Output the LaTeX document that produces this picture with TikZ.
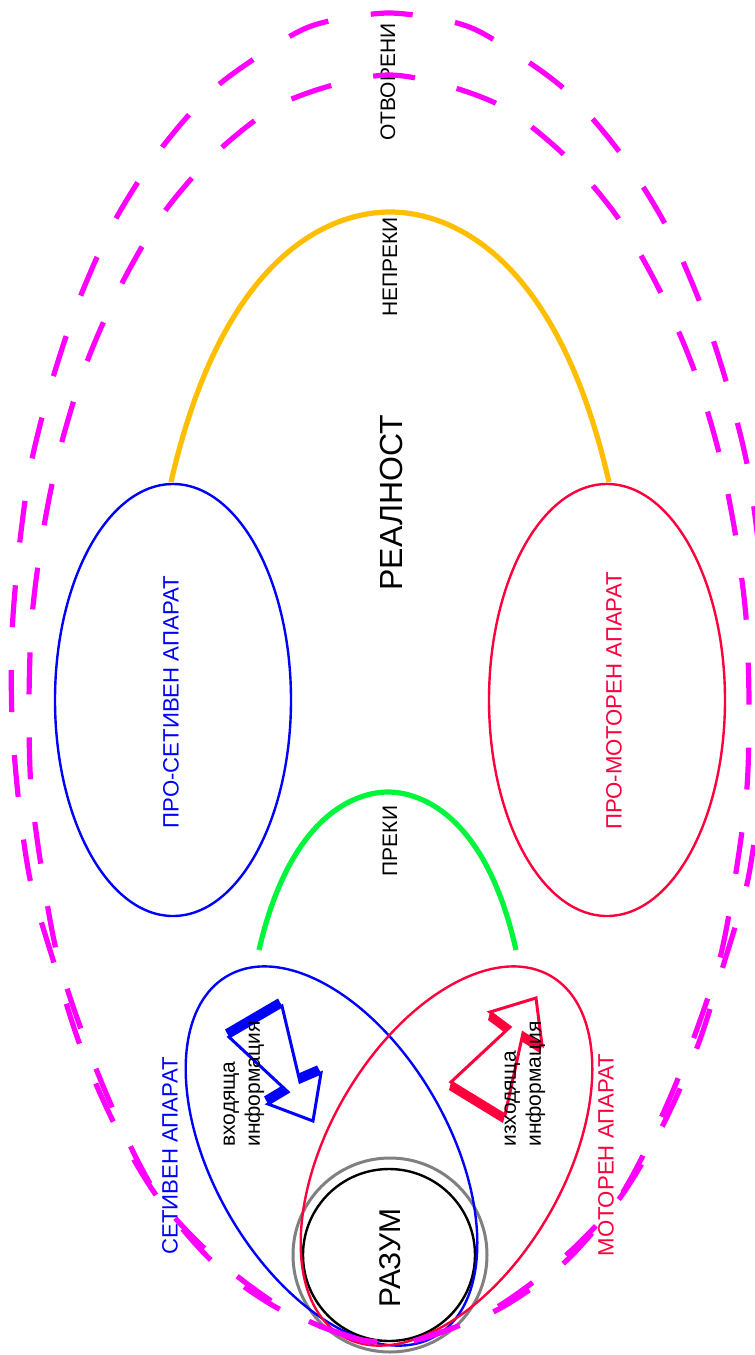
\documentclass[tikz,border=0pt]{standalone}
\usepackage{fontspec}
\setmainfont{Liberation Sans}
\definecolor{sensblue}{RGB}{0,0,255}
\definecolor{motred}{RGB}{255,0,60}
\definecolor{openmag}{RGB}{255,0,255}
\definecolor{baryel}{RGB}{255,190,0}
\definecolor{bargreen}{RGB}{0,245,60}
\begin{document}
\begin{tikzpicture}[x=0.5pt,y=-0.5pt,
  every node/.style={font=\fontsize{10.5}{12.5}\selectfont,rotate=90,inner sep=0pt},
  big/.style={font=\fontsize{16}{19}\selectfont},
  aplabel/.style={font=\fontsize{11.1}{13}\selectfont},
  apparat/.style={line width=1.2pt},
  barrier/.style={line width=2.6pt},
  bolt/.style={line width=1.5pt,fill=white,line join=miter},
  open/.style={draw=openmag,line width=2.6pt,dash pattern=on 21pt off 21.5pt,dash phase=41.5pt}]
\useasboundingbox (0,0) rectangle (755,1355);
% pro-apparatus and barriers
\draw[apparat,sensblue] (173,700) ellipse [x radius=59pt,y radius=108pt];
\draw[apparat,motred] (607,700) ellipse [x radius=59pt,y radius=108pt];
\draw[barrier,baryel] (171,482) .. controls (226,242) and (340,212) .. (390,212) .. controls (440,212) and (554,242) .. (609,482);
\draw[barrier,bargreen] (259,950) .. controls (291,811) and (359,792) .. (388,792) .. controls (417,792) and (485,811) .. (516,950);
% mind
\draw[gray,line width=1.5pt] (390,1255) circle[radius=48.5pt];
\draw[line width=1.2pt] (389,1255) circle[radius=43pt];
\draw[apparat,sensblue,rotate around={-60:(331.5,1156)}] (331.5,1156) ellipse [x radius=104pt,y radius=59pt];
\draw[apparat,motred,rotate around={60:(446.5,1156)}] (446.5,1156) ellipse [x radius=104pt,y radius=59pt];
% incoming / outgoing bolts
\fill[sensblue] (229,1037)--(282,1006)--(278,998.5)--(225,1029.5)--cycle;
\fill[sensblue] (300,1082)--(321,1073)--(317,1065.5)--(296,1074.5)--cycle;
\fill[sensblue] (268,1104)--(288,1092)--(284,1084.5)--(264,1096.5)--cycle;
\draw[bolt,draw=sensblue] (229,1037)--(282,1006)--(300,1082)--(321,1073)--(313,1121)--(268,1104)--(288,1092)--cycle;
\fill[motred] (451,1082)--(505,1115)--(503,1123)--(449,1090)--cycle;
\fill[motred] (490,1012)--(510,1027)--(508,1035)--(488,1020)--cycle;
\fill[motred] (523,1033)--(542,1045)--(540,1053)--(521,1041)--cycle;
\draw[bolt,draw=motred] (451,1082)--(510,1027)--(490,1012)--(536,998)--(542,1045)--(523,1033)--(505,1115)--cycle;
% labels
\node[big] (reality) at (391,503) {РЕАЛНОСТ};
\node (open) at (388,82) {ОТВОРЕНИ};
\node (notbar) at (390,267) {НЕПРЕКИ};
\node (bar) at (390,841) {ПРЕКИ};
\node[aplabel,sensblue] (prosens) at (171,702) {ПРО-СЕТИВЕН АПАРАТ};
\node[aplabel,motred] (promot) at (614,701) {ПРО-МОТОРЕН АПАРАТ};
\node[aplabel,sensblue] (sens) at (170,1156) {СЕТИВЕН АПАРАТ};
\node[aplabel,motred] (mot) at (606,1155) {МОТОРЕН АПАРАТ};
\node[font=\fontsize{15}{18}\selectfont] (mind) at (390,1258) {РАЗУМ};
\node[align=left] (inflow) at (244,1084) {входяща\\информация};
\node[align=left] (outflow) at (525,1084) {изходяща\\информация};
% open field
\draw[open] plot[smooth cycle] coordinates {(389,1344) (361,1340) (281,1310) (213,1262) (156,1195) (114,1123) (80,1045) (54,963) (31,884) (19,804) (12,719) (12,634) (19,549) (31,464) (52,381) (79,300) (114,222) (160,150) (216,87) (287,38) (325,22) (389,13) (453,22) (491,38) (562,87) (618,150) (664,222) (699,300) (726,381) (747,464) (759,549) (766,634) (766,719) (759,804) (747,884) (724,963) (698,1045) (664,1123) (622,1195) (565,1262) (497,1310) (417,1340)};
\draw[open] plot[smooth cycle] coordinates {(389,1342) (350,1337) (284,1309) (215,1258) (159,1198) (117,1118) (85,1040) (58,958) (42,872) (31,787) (29,702) (32,617) (43,532) (60,449) (85,367) (119,289) (162,215) (218,151) (287,101) (389,75) (491,101) (560,151) (616,215) (659,289) (693,367) (718,449) (735,532) (746,617) (749,702) (747,787) (736,872) (720,958) (693,1040) (661,1118) (619,1198) (563,1258) (494,1309) (428,1337)};
\end{tikzpicture}
\end{document}
